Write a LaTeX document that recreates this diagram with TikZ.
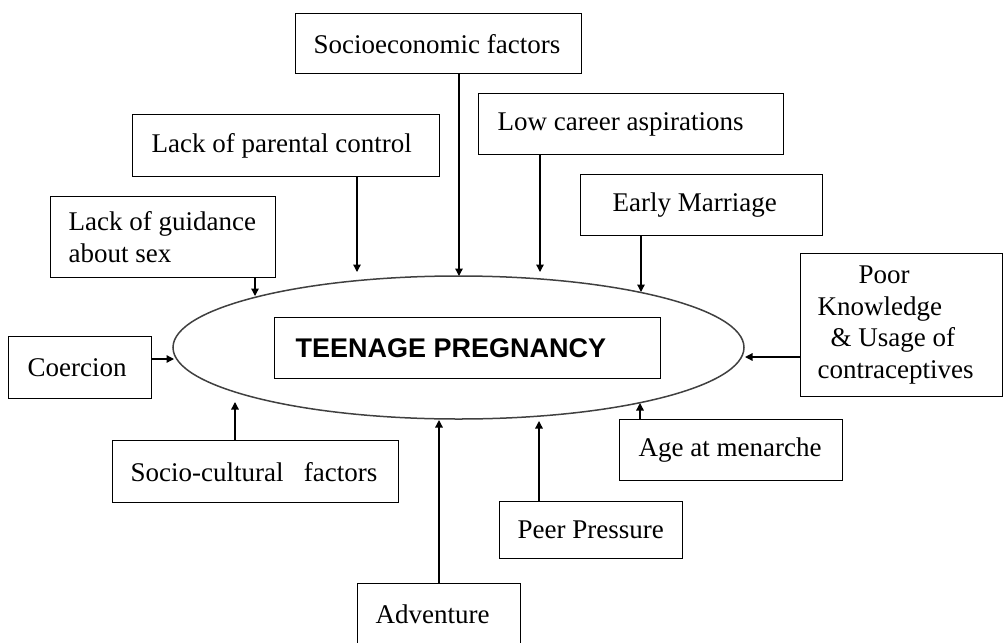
\documentclass[tikz,border=0pt]{standalone}
\usepackage{fontspec}
\setmainfont{Liberation Serif}
\newfontfamily\arialfont{Liberation Sans}
\usetikzlibrary{arrows.meta,shapes.geometric}
\begin{document}
\begin{tikzpicture}[x=1pt,y=-1pt,
  box/.style={draw, line width=1.3pt, anchor=north west, inner xsep=0pt, inner ysep=0pt,
    align=flush left, font=\fontsize{27pt}{31.5pt}\selectfont},
  arr/.style={line width=1.3pt, -{Triangle[width=7.5pt,length=7.5pt]}}]
\useasboundingbox (0,0) rectangle (1008,642);
% central ellipse
\node[draw=black!75, line width=1.5pt, ellipse, minimum width=571pt, minimum height=143pt, inner sep=0pt] (ell) at (458.5,347.5) {};
\node[box, text width=386pt, minimum height=61pt, font=\arialfont\bfseries\fontsize{27pt}{32pt}\selectfont] (teen) at (274,317) {\hspace*{21pt}TEENAGE PREGNANCY};
% factor boxes
\node[box, text width=286pt, minimum height=60pt] (socio) at (295,13) {\hspace*{18pt}Socioeconomic factors};
\node[box, text width=307pt, minimum height=62pt] (parent) at (132,114) {\hspace*{19pt}Lack of parental control};
\node[box, text width=305pt, minimum height=61pt] (career) at (478,93) {\hspace*{19pt}Low career aspirations};
\node[box, text width=225pt, minimum height=81pt] (guide) at (50,196) {\hspace*{18pt}Lack of guidance\\\hspace*{18pt}about sex};
\node[box, text width=242pt, minimum height=61pt] (early) at (580,174) {\hspace*{32pt}Early Marriage};
\node[box, text width=202pt, minimum height=143pt] (poor) at (800,253) {\hspace*{58pt}Poor\\\hspace*{17pt}Knowledge\\\hspace*{30pt}\& Usage of\\\hspace*{17pt}contraceptives};
\node[box, text width=143pt, minimum height=62pt] (coerc) at (8,336) {\hspace*{19pt}Coercion};
\node[box, text width=286pt, minimum height=62pt] (cult) at (112,440) {\hspace*{18pt}Socio-cultural~~~factors};
\node[box, text width=223pt, minimum height=61pt] (menar) at (619,419) {\hspace*{19pt}Age at menarche};
\node[box, text width=183pt, minimum height=57pt] (peer) at (499,501) {\hspace*{18pt}Peer Pressure};
\node[box, text width=163pt, minimum height=62pt] (adv) at (357,583) {\hspace*{18pt}Adventure};
% connectors
\draw[arr] (socio.south -| 459,0) -- (459,276);
\draw[arr] (parent.south -| 357,0) -- (357,272);
\draw[arr] (career.south -| 540,0) -- (540,272);
\draw[arr] (guide.south -| 255,0) -- (255,296);
\draw[arr] (early.south -| 641,0) -- (641,292);
\draw[arr] (poor.west |- 0,357) -- (745,357);
\draw[arr] (coerc.east |- 0,359) -- (174,359);
\draw[arr] (cult.north -| 235,0) -- (235,402);
\draw[arr] (adv.north -| 439,0) -- (439,420);
\draw[arr] (peer.north -| 539,0) -- (539,421);
\draw[arr] (menar.north -| 640,0) -- (640,403);
\end{tikzpicture}
\end{document}
